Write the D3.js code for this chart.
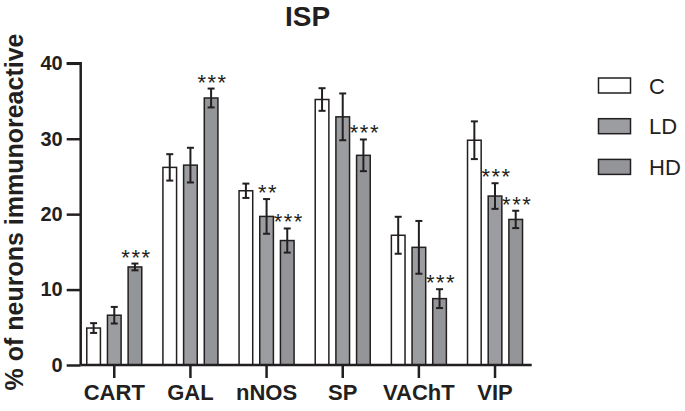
<!DOCTYPE html>
<html><head><meta charset="utf-8">
<script src="https://cdn.jsdelivr.net/npm/d3@7/dist/d3.min.js"></script>
<style>body{margin:0;background:#fff}svg{display:block}text{font-family:Arial,"Liberation Sans",sans-serif}</style>
</head><body><svg id="c" width="685" height="411"></svg>
<script>
const categories = ["CART","GAL","nNOS","SP","VAChT","VIP"];
const seriesNames = ["C","LD","HD"];
const meanC  = [4.9, 26.2, 23.1, 35.2, 17.2, 29.8];
const meanLD = [6.6, 26.5, 19.7, 32.9, 15.6, 22.4];
const meanHD = [13.0, 35.4, 16.5, 27.8, 8.8, 19.3];
const errC  = [0.65, 1.75, 0.95, 1.5, 2.45, 2.5];
const errLD = [1.1, 2.3, 2.3, 3.1, 3.5, 1.7];
const errHD = [0.45, 1.25, 1.6, 2.1, 1.25, 1.15];
const sigC  = ["", "", "", "", "", ""];
const sigLD = ["", "", "**", "", "", "***"];
const sigHD = ["***", "***", "***", "***", "***", "***"];
const yTicks = [0, 10, 20, 30, 40];

const colors = {C:"#ffffff", LD:"#9b9da1", HD:"#949598"};
const stroke = "#231f20";
const means = {C:meanC, LD:meanLD, HD:meanHD};
const errs = {C:errC, LD:errLD, HD:errHD};
const sigs = {C:sigC, LD:sigLD, HD:sigHD};

const svg = d3.select("#c");
const y = d3.scaleLinear().domain([0,40]).range([365, 63.3]);
const x0 = d3.scaleBand().domain(categories).range([76.2, 533.1]).paddingInner(0).paddingOuter(0);
const x1 = d3.scaleBand().domain(seriesNames).range([-27.5, 27.5]).paddingInner(0.34);

const data = [];
categories.forEach((c,i)=>seriesNames.forEach(s=>data.push({c, s, v:means[s][i], e:errs[s][i], sig:sigs[s][i]})));
const cx = d => x0(d.c) + x0.bandwidth()/2 + x1(d.s);

// bars
svg.append("g").selectAll("rect").data(data).join("rect")
  .attr("x", d=>cx(d)).attr("width", x1.bandwidth())
  .attr("y", d=>y(d.v)).attr("height", d=>y(0)-y(d.v))
  .attr("fill", d=>colors[d.s]).attr("stroke", stroke).attr("stroke-width", 1.5);

// error bars
const eg = svg.append("g").attr("stroke", stroke).attr("stroke-width", 2);
data.forEach(d=>{
  const mx = cx(d) + x1.bandwidth()/2;
  eg.append("line").attr("x1",mx).attr("x2",mx).attr("y1",y(d.v-d.e)).attr("y2",y(d.v+d.e));
  eg.append("line").attr("x1",mx-3.5).attr("x2",mx+3.5).attr("y1",y(d.v+d.e)).attr("y2",y(d.v+d.e));
  eg.append("line").attr("x1",mx-3.5).attr("x2",mx+3.5).attr("y1",y(d.v-d.e)).attr("y2",y(d.v-d.e));
});

// significance
svg.append("g").selectAll("text").data(data.filter(d=>d.sig)).join("text")
  .attr("x", d=>cx(d)+x1.bandwidth()/2+1.5).attr("y", d=>y(d.v+d.e)+1)
  .attr("text-anchor","middle").attr("font-size",22).attr("letter-spacing","1.5px")
  .attr("fill","#231f20").text(d=>d.sig);

// y axis
const ya = svg.append("g").attr("transform","translate(80.7,0)")
  .call(d3.axisLeft(y).tickValues(yTicks).tickSize(14).tickPadding(4));
ya.select(".domain").attr("d", `M-14,${y(40)}H0V${y(0)}`);
ya.selectAll("line,path").attr("stroke", stroke).attr("stroke-width", 2.5);
ya.selectAll("text").attr("font-size",20).attr("font-weight","bold").attr("fill","#231f20")
  .attr("font-family","Arial, 'Liberation Sans', sans-serif");

// x axis
const xa = svg.append("g").attr("transform",`translate(0,${y(0)})`)
  .call(d3.axisBottom(x0).tickSize(13).tickPadding(6));
xa.select(".domain").attr("d","M80.7,0H531.7");
xa.selectAll("line,path").attr("stroke", stroke).attr("stroke-width", 2.5);
xa.selectAll("text").attr("font-size",22).attr("font-weight","bold").attr("fill","#231f20")
  .attr("font-family","Arial, 'Liberation Sans', sans-serif");

// y label
svg.append("text").attr("transform","translate(22.5,212) rotate(-90)")
  .attr("text-anchor","middle").attr("font-size",25).attr("font-weight","bold").attr("fill","#231f20")
  .text("% of neurons immunoreactive");

// title
svg.append("text").attr("x",307.5).attr("y",26).attr("text-anchor","middle")
  .attr("font-size",28).attr("font-weight","bold").attr("fill","#231f20").text("ISP");

// legend
const lg = svg.append("g");
seriesNames.forEach((s,i)=>{
  const cy = 85.5 + i*40.7;
  lg.append("rect").attr("x",598.5).attr("y",cy-7.5).attr("width",32).attr("height",15)
    .attr("fill",colors[s]).attr("stroke",stroke).attr("stroke-width",1.5);
  lg.append("text").attr("x",649).attr("y",cy+8).attr("font-size",22).attr("fill","#231f20").text(s);
});
</script></body></html>
